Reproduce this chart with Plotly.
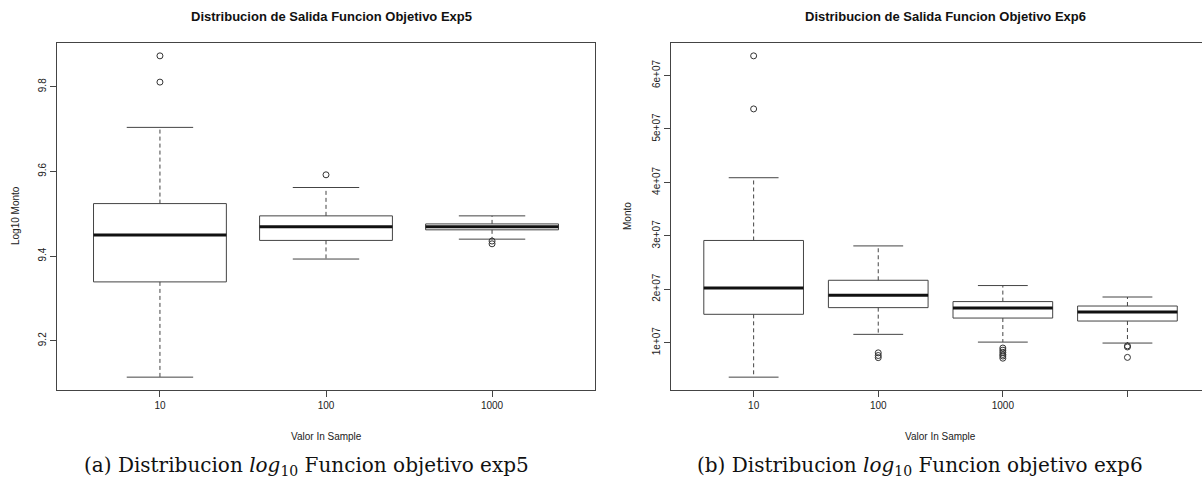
import plotly.graph_objects as go

# ---------------- data ----------------
# Exp5 (log10 Monto)
exp5_labels = ["10", "100", "1000"]
exp5_lower = [9.114, 9.393, 9.440]
exp5_q1 = [9.339, 9.437, 9.462]
exp5_median = [9.450, 9.469, 9.469]
exp5_q3 = [9.524, 9.495, 9.476]
exp5_upper = [9.704, 9.562, 9.495]
exp5_outliers = [[9.873, 9.811], [9.592], [9.4355, 9.429]]
exp5_yticks = [9.2, 9.4, 9.6, 9.8]
exp5_yticklabels = ["9.2", "9.4", "9.6", "9.8"]

# Exp6 (Monto)
exp6_labels = ["10", "100", "1000", ""]
exp6_lower = [3.55e6, 1.156e7, 1.011e7, 9.93e6]
exp6_q1 = [1.531e7, 1.656e7, 1.461e7, 1.405e7]
exp6_median = [2.024e7, 1.887e7, 1.649e7, 1.574e7]
exp6_q3 = [2.913e7, 2.168e7, 1.769e7, 1.686e7]
exp6_upper = [4.087e7, 2.811e7, 2.069e7, 1.855e7]
exp6_outliers = [[6.368e7, 5.375e7],
                 [8.1e6, 7.6e6, 7.2e6],
                 [9.0e6, 8.6e6, 8.2e6, 7.8e6, 7.5e6, 7.1e6],
                 [9.4e6, 9.2e6, 7.25e6]]
exp6_yticks = [1e7, 2e7, 3e7, 4e7, 5e7, 6e7]
exp6_yticklabels = ["1e+07", "2e+07", "3e+07", "4e+07", "5e+07", "6e+07"]

# ---------------- layout helpers ----------------
W, H = 1202, 489
def px(x):
    return x / W
def py(y):
    return 1 - y / H

LINE = "#444444"
SANS = "Liberation Sans, Arial, Helvetica, sans-serif"
SERIF = "DejaVu Serif, Liberation Serif, serif"
BOXW = 0.8
CAPW = 0.4

fig = go.Figure()

def add_panel(xa, ya, lower, q1, med, q3, upper, outliers):
    n = len(q1)
    pos = list(range(1, n + 1))
    fig.add_trace(go.Box(
        x=pos, q1=q1, median=med, q3=q3, lowerfence=q1, upperfence=q3,
        width=BOXW, whiskerwidth=0, fillcolor="rgba(0,0,0,0)",
        line=dict(color=LINE, width=1), boxpoints=False,
        hoverinfo="skip", showlegend=False, xaxis=xa, yaxis=ya))
    wx, wy, cx, cy, mx, my = [], [], [], [], [], []
    for p, lo, a, m, b, hi in zip(pos, lower, q1, med, q3, upper):
        wx += [p, p, None, p, p, None]
        wy += [b, hi, None, a, lo, None]
        cx += [p - CAPW / 2, p + CAPW / 2, None, p - CAPW / 2, p + CAPW / 2, None]
        cy += [hi, hi, None, lo, lo, None]
        mx += [p - BOXW / 2, p + BOXW / 2, None]
        my += [m, m, None]
    fig.add_trace(go.Scatter(x=wx, y=wy, mode="lines",
                             line=dict(color=LINE, width=1, dash="4px,3px"),
                             hoverinfo="skip", showlegend=False, xaxis=xa, yaxis=ya))
    fig.add_trace(go.Scatter(x=cx, y=cy, mode="lines",
                             line=dict(color=LINE, width=1),
                             hoverinfo="skip", showlegend=False, xaxis=xa, yaxis=ya))
    fig.add_trace(go.Scatter(x=mx, y=my, mode="lines",
                             line=dict(color="#111111", width=3),
                             hoverinfo="skip", showlegend=False, xaxis=xa, yaxis=ya))
    ox, oy = [], []
    for p, outs in zip(pos, outliers):
        for v in outs:
            ox.append(p)
            oy.append(v)
    fig.add_trace(go.Scatter(x=ox, y=oy, mode="markers",
                             marker=dict(symbol="circle-open", size=6,
                                         color="#333333", line=dict(width=1)),
                             hoverinfo="skip", showlegend=False, xaxis=xa, yaxis=ya))

add_panel("x", "y", exp5_lower, exp5_q1, exp5_median, exp5_q3, exp5_upper, exp5_outliers)
add_panel("x2", "y2", exp6_lower, exp6_q1, exp6_median, exp6_q3, exp6_upper, exp6_outliers)

def yrange(lower, upper, outliers):
    allv = lower + upper + [v for o in outliers for v in o]
    lo, hi = min(allv), max(allv)
    ext = 0.04 * (hi - lo)
    return [lo - ext, hi + ext]

axis_common = dict(showgrid=False, zeroline=False, showline=True,
                   linecolor=LINE, linewidth=1, ticks="outside", ticklen=6,
                   tickcolor=LINE, tickwidth=1,
                   tickfont=dict(family=SANS, size=10, color="#222222"))

# plot areas in pixels
L_X0, L_X1 = 57, 595
R_X0 = 671.4
R_STEP = 124.6
TOP, BOT = 43, 390

n5 = len(exp5_q1)
n6 = len(exp6_q1)
r6_right = 0.34 + (W - R_X0) / R_STEP

fig.update_layout(
    width=W, height=H, margin=dict(l=0, r=0, t=0, b=0),
    paper_bgcolor="white", plot_bgcolor="white", showlegend=False,
    xaxis=dict(domain=[px(L_X0), px(L_X1)], range=[0.38, n5 + 0.62],
               tickvals=list(range(1, n5 + 1)), ticktext=exp5_labels,
               mirror=True, anchor="y", **axis_common),
    yaxis=dict(domain=[py(BOT), py(TOP)], range=yrange(exp5_lower, exp5_upper, exp5_outliers),
               tickvals=exp5_yticks, ticktext=exp5_yticklabels, tickangle=-90,
               mirror=True, anchor="x", **axis_common),
    xaxis2=dict(domain=[px(R_X0), 1.0], range=[0.34, r6_right],
                tickvals=list(range(1, n6 + 1)), ticktext=exp6_labels,
                mirror=True, anchor="y2", **axis_common),
    yaxis2=dict(domain=[py(BOT), py(TOP)], range=yrange(exp6_lower, exp6_upper, exp6_outliers),
                tickvals=exp6_yticks, ticktext=exp6_yticklabels, tickangle=-90,
                mirror=False, anchor="x2", **axis_common),
)

def ann(text, x, y, size, family=SANS, angle=0, bold=False, color="#222222"):
    fig.add_annotation(text=("<b>%s</b>" % text) if bold else text,
                       x=px(x), y=py(y), xref="paper", yref="paper",
                       xanchor="center", yanchor="middle", showarrow=False,
                       textangle=angle, font=dict(family=family, size=size, color=color))

ann("Distribucion de Salida Funcion Objetivo Exp5", 331, 17, 13, bold=True, color="#111111")
ann("Distribucion de Salida Funcion Objetivo Exp6", 945, 17, 13, bold=True, color="#111111")
ann("Log10 Monto", 15, 216, 10, angle=-90)
ann("Monto", 627, 216, 10, angle=-90)
ann("Valor In Sample", 326, 436, 10)
ann("Valor In Sample", 940, 436, 10)
ann("(a) Distribucion <i>log</i><sub>10</sub> Funcion objetivo exp5", 306, 466, 20,
    family=SERIF, color="#111111")
ann("(b) Distribucion <i>log</i><sub>10</sub> Funcion objetivo exp6", 920, 466, 20,
    family=SERIF, color="#111111")

fig.write_html("out.html")
